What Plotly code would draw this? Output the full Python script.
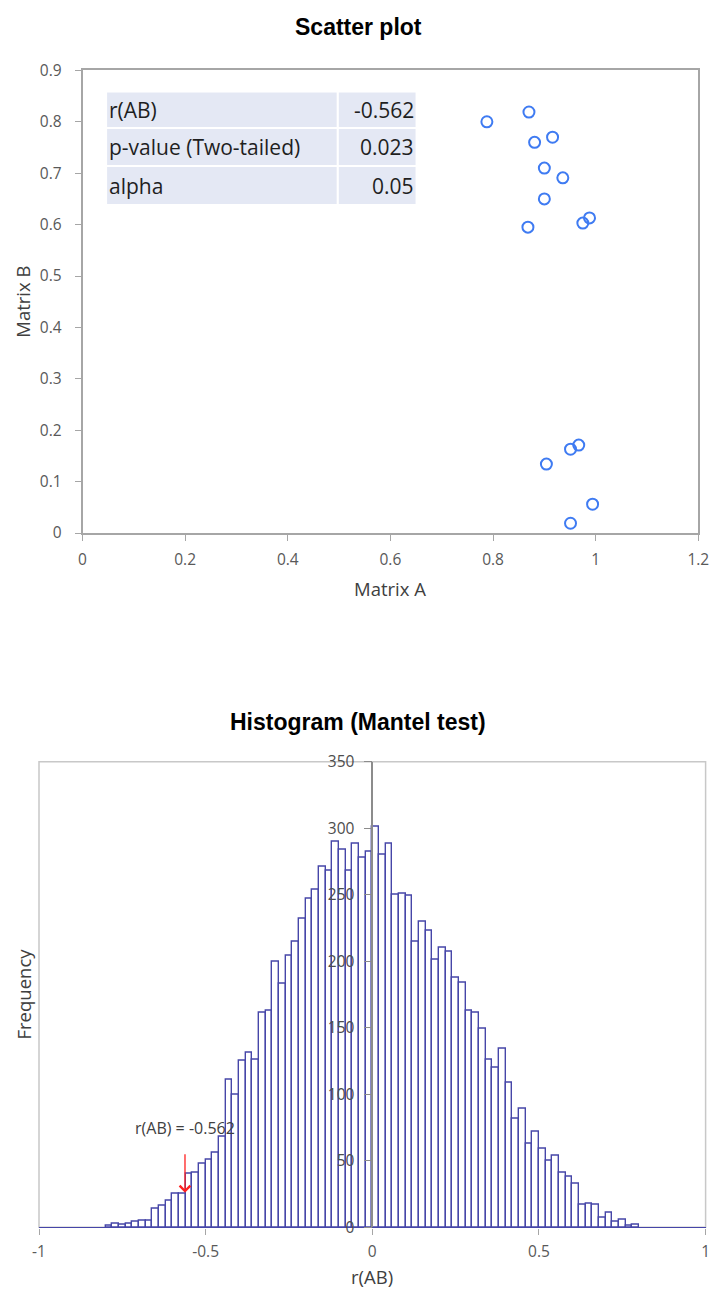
import plotly.graph_objects as go

# ---------------- data ----------------
matrix_a = [0.788, 0.870, 0.881, 0.916, 0.900, 0.936, 0.900, 0.868, 0.975, 0.988,
            0.951, 0.967, 0.904, 0.994, 0.951]
matrix_b = [0.800, 0.819, 0.760, 0.770, 0.710, 0.691, 0.650, 0.595, 0.603, 0.613,
            0.163, 0.171, 0.134, 0.056, 0.019]

table_labels = ["r(AB)", "p-value (Two-tailed)", "alpha"]
table_values = ["-0.562", "0.023", "0.05"]
r_ab = -0.562

bin_start = -0.80
bin_width = 0.02
hist_counts = [1, 3, 2, 3, 4, 5, 5, 14, 16, 20,
               25, 25, 40, 41, 48, 51, 56, 68, 111, 100,
               125, 131, 126, 161, 163, 200, 183, 204, 215, 232,
               247, 254, 271, 268, 290, 284, 268, 288, 278, 282,
               301, 280, 288, 250, 251, 249, 215, 230, 223, 201,
               210, 207, 188, 184, 163, 161, 149, 126, 120, 134,
               109, 82, 89, 63, 72, 59, 50, 54, 41, 38,
               33, 17, 18, 17, 7, 11, 4, 6, 1, 2]

scatter_xticks = [0, 0.2, 0.4, 0.6, 0.8, 1, 1.2]
scatter_yticks = [0, 0.1, 0.2, 0.3, 0.4, 0.5, 0.6, 0.7, 0.8, 0.9]
hist_xticks = [-1, -0.5, 0, 0.5, 1]
hist_yticks = [0, 50, 100, 150, 200, 250, 300, 350]

# ---------------- style ----------------
W, H = 713, 1290
SANS = "Open Sans, Noto Sans, sans-serif"
TICK_FONT = dict(family=SANS, size=15.5, color="#595959")
TITLE_FONT = dict(family="Liberation Sans Narrow, Arial Narrow, Liberation Sans, Arial", size=23, color="#000000")
LABEL_FONT = dict(family=SANS, size=18.5, color="#404040")
AXIS_GREY = "#A6A6A6"
FRAME_GREY = "#C8C8C8"
BAR_LINE = "#4646A8"

def px_x(p):
    return p / W

def px_y(p):
    return 1 - p / H

# scatter plot area in pixels
sc_l, sc_r, sc_t, sc_b = 82.5, 698.3, 70.4, 533.0
# histogram plot area in pixels
hi_l, hi_r, hi_t, hi_b = 39.0, 705.6, 761.7, 1227.3

fig = go.Figure()

fig.add_trace(go.Scatter(
    x=matrix_a, y=matrix_b, mode="markers",
    marker=dict(symbol="circle-open", size=11, color="#3F7BF2", line=dict(width=2, color="#3F7BF2")),
    xaxis="x", yaxis="y", showlegend=False, hoverinfo="x+y"))

centers = [bin_start + bin_width * (i + 0.5) for i in range(len(hist_counts))]
fig.add_trace(go.Bar(
    x=centers, y=hist_counts, width=bin_width,
    marker=dict(color="white", line=dict(color=BAR_LINE, width=1.4)),
    xaxis="x2", yaxis="y2", showlegend=False))

hx_dom = [px_x(hi_l), px_x(hi_r)]
fig.update_layout(
    width=W, height=H,
    margin=dict(l=0, r=0, t=0, b=0, autoexpand=False),
    paper_bgcolor="white", plot_bgcolor="white",
    bargap=0,
    xaxis=dict(domain=[px_x(sc_l), px_x(sc_r)], range=[0, 1.2], tickvals=scatter_xticks,
               ticktext=[f"{v:g}" for v in scatter_xticks], automargin=False,
               showgrid=False, zeroline=False, showline=True, linecolor=AXIS_GREY, linewidth=1.5,
               mirror=True, ticks="outside", ticklen=6, tickcolor=AXIS_GREY, tickfont=TICK_FONT,
               ticklabelstandoff=6, anchor="y", fixedrange=True),
    yaxis=dict(domain=[px_y(sc_b), px_y(sc_t)], range=[0, 0.9], tickvals=scatter_yticks,
               ticktext=[f"{v:g}" for v in scatter_yticks], automargin=False,
               showgrid=False, zeroline=False, showline=True, linecolor=AXIS_GREY, linewidth=1.5,
               mirror=True, ticks="outside", ticklen=6, tickcolor=AXIS_GREY, tickfont=TICK_FONT,
               ticklabelstandoff=10, anchor="x", fixedrange=True),
    xaxis2=dict(domain=hx_dom, range=[-1, 1], tickvals=hist_xticks,
                ticktext=[f"{v:g}" for v in hist_xticks], automargin=False,
                showgrid=False, zeroline=False, showline=True, linecolor=BAR_LINE, linewidth=1.4,
                ticks="outside", ticklen=6, tickcolor=AXIS_GREY, tickfont=TICK_FONT,
                ticklabelstandoff=4, anchor="y2", fixedrange=True),
    yaxis2=dict(domain=[px_y(hi_b), px_y(hi_t)], range=[0, 350], tickvals=hist_yticks,
                automargin=False,
                showgrid=False, zeroline=False, showline=True, linecolor="#8C8C8C", linewidth=1.5,
                ticks="outside", ticklen=8, tickcolor="#8C8C8C",
                tickfont=dict(family=SANS, size=15.5, color="#4D4D4D"),
                ticklabelstandoff=6,
                anchor="free", position=(hx_dom[0] + hx_dom[1]) / 2, layer="above traces",
                fixedrange=True),
)

shapes = []
# histogram frame
shapes.append(dict(type="rect", xref="x2 domain", yref="y2 domain", x0=0, x1=1, y0=0, y1=1,
                   line=dict(color=FRAME_GREY, width=1.5), layer="below"))

# statistics table inside scatter plot (data coordinates of the scatter axes)
tbl_x = [0.046, 0.4975, 0.651]
tbl_y = [0.859, 0.788, 0.714, 0.638]
for r in range(3):
    for c in range(2):
        shapes.append(dict(type="rect", xref="x", yref="y",
                           x0=tbl_x[c], x1=tbl_x[c + 1], y0=tbl_y[r + 1], y1=tbl_y[r],
                           fillcolor="#E4E8F4", line=dict(color="white", width=2), layer="below"))
fig.update_layout(shapes=shapes)

ann = []
TABLE_FONT = dict(family=SANS, size=21, color="#1F1F1F")
for r in range(3):
    yc = (tbl_y[r] + tbl_y[r + 1]) / 2
    ann.append(dict(xref="x", yref="y", x=tbl_x[0] + 0.001, y=yc, text=table_labels[r],
                    showarrow=False, xanchor="left", yanchor="middle", font=TABLE_FONT))
    ann.append(dict(xref="x", yref="y", x=tbl_x[2] - 0.002, y=yc, text=table_values[r],
                    showarrow=False, xanchor="right", yanchor="middle", font=TABLE_FONT))

# titles
ann.append(dict(xref="paper", yref="paper", x=px_x(358), y=px_y(27), text="<b>Scatter plot</b>",
                showarrow=False, xanchor="center", yanchor="middle", font=TITLE_FONT))
ann.append(dict(xref="paper", yref="paper", x=px_x(358), y=px_y(722), text="<b>Histogram (Mantel test)</b>",
                showarrow=False, xanchor="center", yanchor="middle", font=TITLE_FONT))
# axis titles
ann.append(dict(xref="paper", yref="paper", x=px_x((sc_l + sc_r) / 2), y=px_y(588), text="Matrix A",
                showarrow=False, xanchor="center", yanchor="middle", font=LABEL_FONT))
ann.append(dict(xref="paper", yref="paper", x=px_x(23), y=px_y((sc_t + sc_b) / 2), text="Matrix B",
                showarrow=False, xanchor="center", yanchor="middle", textangle=-90, font=LABEL_FONT))
ann.append(dict(xref="paper", yref="paper", x=px_x(372), y=px_y(1276), text="r(AB)",
                showarrow=False, xanchor="center", yanchor="middle", font=LABEL_FONT))
ann.append(dict(xref="paper", yref="paper", x=px_x(23), y=px_y((hi_t + hi_b) / 2), text="Frequency",
                showarrow=False, xanchor="center", yanchor="middle", textangle=-90, font=LABEL_FONT))

# observed r(AB) marker
ann.append(dict(xref="x2", yref="y2", x=r_ab, y=75, text=f"r(AB) = {r_ab}", showarrow=False,
                xanchor="center", yanchor="middle",
                font=dict(family=SANS, size=16, color="#404040")))
ann.append(dict(xref="x2", yref="y2", x=r_ab, y=26, ax=r_ab, ay=56, axref="x2", ayref="y2",
                text="", showarrow=True, arrowhead=4, arrowsize=1.6, arrowwidth=1.3, arrowcolor="#FF2020"))
fig.update_layout(annotations=ann)

fig.write_html("out.html")
